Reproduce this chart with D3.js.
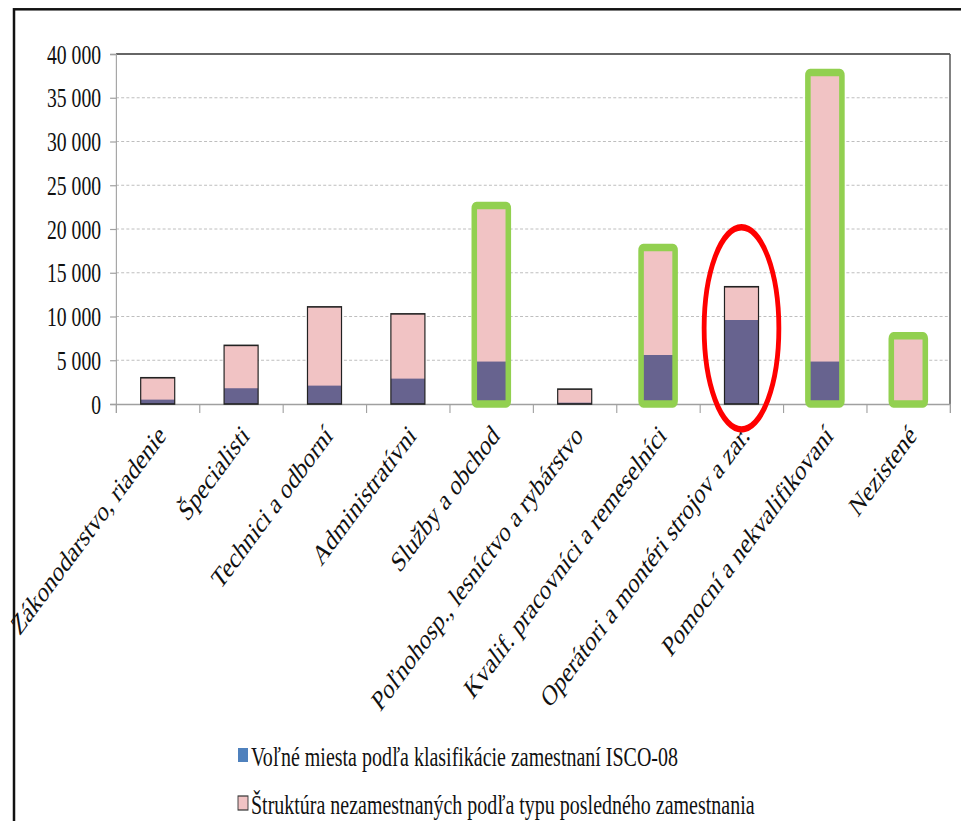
<!DOCTYPE html>
<html><head><meta charset="utf-8">
<script src="https://cdn.jsdelivr.net/npm/d3@7"></script>
<style>body{margin:0;background:#fff;overflow:hidden}</style>
</head><body>
<svg id="c" width="961" height="821"></svg>
<script>
const categories = ["Zákonodarstvo, riadenie","Špecialisti","Technici a odborní","Administratívni","Služby a obchod","Poľnohosp., lesníctvo a rybárstvo","Kvalif. pracovníci a remeselníci","Operátori a montéri strojov a zar.","Pomocní a nekvalifikovaní","Nezistené"];
const unemployed = [3000,6700,11100,10300,22700,1700,17900,13400,37900,7800];
const vacancies = [500,1800,2100,2900,4850,150,5600,9600,4850,0];
const yTicks = [0,5000,10000,15000,20000,25000,30000,35000,40000];
const highlighted = ["Služby a obchod","Kvalif. pracovníci a remeselníci","Pomocní a nekvalifikovaní","Nezistené"];
const circled = "Operátori a montéri strojov a zar.";
const circleRange = [-2900, 20200];
const legendLabels = ["Voľné miesta podľa klasifikácie zamestnaní ISCO-08","Štruktúra nezamestnaných podľa typu posledného zamestnania"];

(function(){
const sx = 0.74;
const V = v => v / sx;
const font = "'Liberation Serif','Times New Roman',serif";
const svg = d3.select("#c");
svg.append("rect").attr("width",961).attr("height",821).attr("fill","#fff");
const g = svg.append("g").attr("transform",`scale(${sx},1)`);

const pLeft = V(116), pRight = V(950), pTop = 54, pBottom = 404;
const y = d3.scaleLinear().domain([0,40000]).range([pBottom, pTop]);
const x = d3.scaleBand().domain(categories).range([pLeft,pRight]).paddingInner(0.592).paddingOuter(0.296);
const xb = d3.scaleLinear().domain([0,categories.length]).range([pLeft,pRight]);
const fmt = d3.formatLocale({decimal:",",thousands:"\u00a0",grouping:[3],currency:["",""]}).format(",d");

// gridlines
g.append("g").selectAll("line").data(yTicks.filter(t => t>0 && t<40000)).join("line")
  .attr("x1",pLeft).attr("x2",pRight).attr("y1",d=>y(d)).attr("y2",d=>y(d))
  .attr("stroke","#b4b4b4").attr("stroke-width",1).attr("stroke-dasharray","4,3");

// plot top & right border
g.append("line").attr("x1",pLeft).attr("x2",pRight).attr("y1",y(40000)).attr("y2",y(40000)).attr("stroke","#333").attr("stroke-width",1.5);
g.append("line").attr("x1",pRight).attr("x2",pRight).attr("y1",y(40000)).attr("y2",y(0)).attr("stroke","#555").attr("stroke-width",2);

// y axis
const ya = g.append("g").attr("transform",`translate(${pLeft},0)`)
  .call(d3.axisLeft(y).tickValues(yTicks).tickFormat(fmt).tickSize(8).tickPadding(V(9)));
ya.select(".domain").attr("stroke","#a0a0a0").attr("stroke-width",1.5);
ya.selectAll(".tick line").attr("stroke","#a0a0a0").attr("stroke-width",1.2);
ya.selectAll(".tick text").attr("font-family",font).attr("font-size",26.6).attr("fill","#111").attr("dy","0.34em");

// x axis ticks
const xa = g.append("g").attr("transform",`translate(0,${y(0)})`)
  .call(d3.axisBottom(xb).ticks(categories.length).tickFormat("").tickSize(9));
xa.select(".domain").attr("stroke","#a0a0a0").attr("stroke-width",1.5);
xa.selectAll(".tick line").attr("stroke","#a0a0a0").attr("stroke-width",1.5);

// bars
const bars = g.append("g");
bars.selectAll("rect.u").data(categories).join("rect").attr("class","u")
  .attr("x",d=>x(d)).attr("width",x.bandwidth())
  .attr("y",(d,i)=>y(unemployed[i])).attr("height",(d,i)=>y(0)-y(unemployed[i]))
  .attr("fill","#f1c3c4");
bars.selectAll("rect.v").data(categories).join("rect").attr("class","v")
  .attr("x",d=>x(d)).attr("width",x.bandwidth())
  .attr("y",(d,i)=>y(vacancies[i])).attr("height",(d,i)=>y(0)-y(vacancies[i]))
  .attr("fill","#67638f");
bars.selectAll("rect.o").data(categories.filter(c=>!highlighted.includes(c))).join("rect").attr("class","o")
  .attr("x",d=>x(d)).attr("width",x.bandwidth())
  .attr("y",d=>y(unemployed[categories.indexOf(d)])).attr("height",d=>y(0)-y(unemployed[categories.indexOf(d)]))
  .attr("fill","none").attr("stroke","#222").attr("stroke-width",1.6);
bars.selectAll("rect.h").data(highlighted).join("rect").attr("class","h")
  .attr("x",d=>x(d)).attr("width",x.bandwidth())
  .attr("y",d=>y(unemployed[categories.indexOf(d)])).attr("height",d=>y(0)-y(unemployed[categories.indexOf(d)]))
  .attr("rx",3).attr("fill","none").attr("stroke","#92d050").attr("stroke-width",7.5);

// red ellipse
g.append("ellipse")
  .attr("cx",x(circled)+x.bandwidth()/2).attr("rx",x.step()*0.448)
  .attr("cy",(y(circleRange[0])+y(circleRange[1]))/2).attr("ry",(y(circleRange[0])-y(circleRange[1]))/2)
  .attr("fill","none").attr("stroke","#ff0000").attr("stroke-width",6.5);

// category labels
g.append("g").selectAll("text").data(categories).join("text")
  .attr("transform",d=>`translate(${x(d)+x.bandwidth()/2+V(4)},430) rotate(-45)`)
  .attr("text-anchor","end").attr("dy","0.35em")
  .attr("font-family",font).attr("font-size",29).attr("fill","#111").text(d=>d);

// legend
const lg = g.append("g");
const legendFill = ["#4f81bd","#f1c3c4"];
const legendStroke = ["none","#333"];
const legendY = [748, 796];
legendLabels.forEach((t,i)=>{
  lg.append("rect").attr("x",V(238)).attr("y",legendY[i]).attr("width",V(10)).attr("height",14)
    .attr("fill",legendFill[i]).attr("stroke",legendStroke[i]).attr("stroke-width",1.2);
  lg.append("text").attr("x",V(251)).attr("y",legendY[i]+18).attr("font-family",font).attr("font-size",27)
    .attr("fill","#111").text(t);
});

// outer frame
svg.append("rect").attr("x",14).attr("y",9.3).attr("width",1000).attr("height",900)
  .attr("fill","none").attr("stroke","#111").attr("stroke-width",2.5);
})();
</script>
</body></html>
